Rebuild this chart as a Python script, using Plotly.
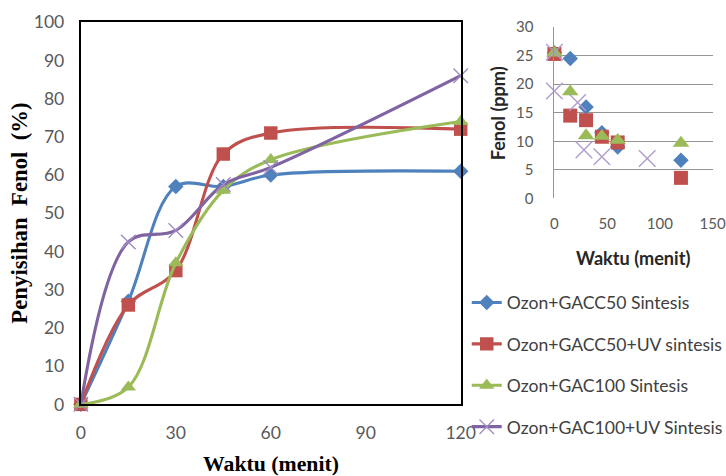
import plotly.graph_objects as go

# ---- main chart data ----
waktu = [0, 15, 30, 45, 60, 120]
names = ["Ozon+GACC50 Sintesis", "Ozon+GACC50+UV sintesis",
         "Ozon+GAC100 Sintesis", "Ozon+GAC100+UV Sintesis"]
gacc50 = [0, 27, 57, 57, 60, 61]
gacc50_uv = [0, 26, 35, 65.5, 71, 72]
gac100 = [0, 4.5, 37, 56, 64, 74]
gac100_uv = [0, 42.5, 45.5, 57.5, 62, 86]

# ---- inset data (Fenol ppm) ----
in_blue_x = [0, 15, 30, 45, 60, 120]
in_blue_y = [25.5, 24.5, 16, 11.5, 9, 6.7]
in_red_x = [0, 15, 30, 45, 60, 120]
in_red_y = [25.3, 14.5, 13.7, 10.8, 9.8, 3.6]
in_green_x = [0, 15, 30, 45, 60, 120]
in_green_y = [25.5, 18.7, 11, 10.9, 10.2, 9.7]
in_purple_x = [0, 0, 22, 28, 45, 88]
in_purple_y = [25.6, 18.8, 16.8, 8.5, 7.3, 7.0]

colors = ["#4F81BD", "#C0504D", "#9BBB59", "#8064A2"]
symbols = ["diamond", "square", "triangle-up", "x-thin"]
series = [gacc50, gacc50_uv, gac100, gac100_uv]

# picture = K * page ; page = figure + 8 (body margin)
K, OFF = 0.9655, 8
W, H = 736, 477
def s(v):
    return v / K
def px(X):
    return (X / K - OFF) / W
def py(Y):
    return 1 - (Y / K - OFF) / H

sizes = [s(11.5), s(13), s(13), s(14)]
in_sizes = [s(11.5), s(13.5), s(14), s(16)]

fig = go.Figure()
for i, (nm, ys) in enumerate(zip(names, series)):
    mk = dict(symbol=symbols[i], size=sizes[i], color=colors[i])
    if symbols[i] == "x-thin":
        mk["line"] = dict(color="#A08CC4", width=1.4)
    fig.add_trace(go.Scatter(
        x=waktu, y=ys, name=nm, mode="lines+markers",
        line=dict(color=colors[i], width=s(3), shape="spline", smoothing=1),
        marker=mk, cliponaxis=False, legendgroup=str(i),
        xaxis="x", yaxis="y"))

ins = [(in_blue_x, in_blue_y), (in_red_x, in_red_y),
       (in_green_x, in_green_y), (in_purple_x, in_purple_y)]
for i, (xs, ys) in enumerate(ins):
    mk = dict(symbol=symbols[i], size=in_sizes[i], color=colors[i])
    if symbols[i] == "x-thin":
        mk["line"] = dict(color="#B09CCC", width=1.4)
    fig.add_trace(go.Scatter(
        x=xs, y=ys, mode="markers", marker=mk, showlegend=False,
        cliponaxis=False, xaxis="x2", yaxis="y2"))

sans = "Lato, Liberation Sans, Arial, sans-serif"
serif = "Liberation Serif, Times New Roman, serif"
tickfont = dict(family=sans, size=s(17), color="#595959")
tickfont2 = dict(family=sans, size=s(14.5), color="#595959")

fig.update_layout(
    width=W, height=H,
    margin=dict(l=0, r=0, t=0, b=0),
    paper_bgcolor="white", plot_bgcolor="white",
    showlegend=True,
    legend=dict(x=px(466), y=py(284), xanchor="left", yanchor="top",
                font=dict(family=sans, size=s(17), color="#404040"),
                tracegroupgap=15.5, bgcolor="rgba(0,0,0,0)", itemwidth=30),
    xaxis=dict(domain=[px(83), px(460)], range=[0, 120], tickvals=[0, 30, 60, 90, 120],
               showgrid=False, zeroline=False, showline=True, linecolor="black", linewidth=2,
               mirror=True, tickfont=tickfont, ticks="outside", ticklen=12,
               tickcolor="rgba(0,0,0,0)", anchor="y"),
    yaxis=dict(domain=[py(405), py(19)], range=[0, 100], dtick=10,
               showgrid=False, zeroline=False, showline=True, linecolor="black", linewidth=2,
               mirror=True, tickfont=tickfont, ticks="outside", ticklen=11,
               tickcolor="rgba(0,0,0,0)", anchor="x"),
    xaxis2=dict(domain=[px(553), px(710)], range=[0, 150], tickvals=[0, 50, 100, 150],
                showgrid=False, zeroline=False, showline=False,
                tickfont=tickfont2, ticks="outside", ticklen=12,
                tickcolor="rgba(0,0,0,0)", anchor="y2"),
    yaxis2=dict(domain=[py(197), py(24)], range=[0, 30], dtick=5,
                showgrid=True, gridcolor="#969696", gridwidth=1, zeroline=False,
                showline=True, linecolor="#969696", linewidth=1,
                tickfont=tickfont2, ticks="outside", ticklen=17,
                tickcolor="rgba(0,0,0,0)", anchor="x2"),
    annotations=[
        dict(text="<b>Penyisihan&#160; Fenol&#160; (%)</b>", x=px(22), y=py(212),
             xref="paper", yref="paper", textangle=-90, showarrow=False,
             xanchor="center", yanchor="middle",
             font=dict(family=serif, size=s(22), color="black")),
        dict(text="<b>Waktu (menit)</b>", x=px(272), y=py(465),
             xref="paper", yref="paper", showarrow=False,
             xanchor="center", yanchor="middle",
             font=dict(family=serif, size=s(21), color="black")),
        dict(text="<b>Fenol (ppm)</b>", x=px(497), y=py(111),
             xref="paper", yref="paper", textangle=-90, showarrow=False,
             xanchor="center", yanchor="middle",
             font=dict(family=sans, size=s(17.5), color="#262626")),
        dict(text="<b>Waktu (menit)</b>", x=px(631), y=py(257),
             xref="paper", yref="paper", showarrow=False,
             xanchor="center", yanchor="middle",
             font=dict(family=sans, size=s(17.5), color="#262626")),
    ],
)

fig.write_html("out.html")
